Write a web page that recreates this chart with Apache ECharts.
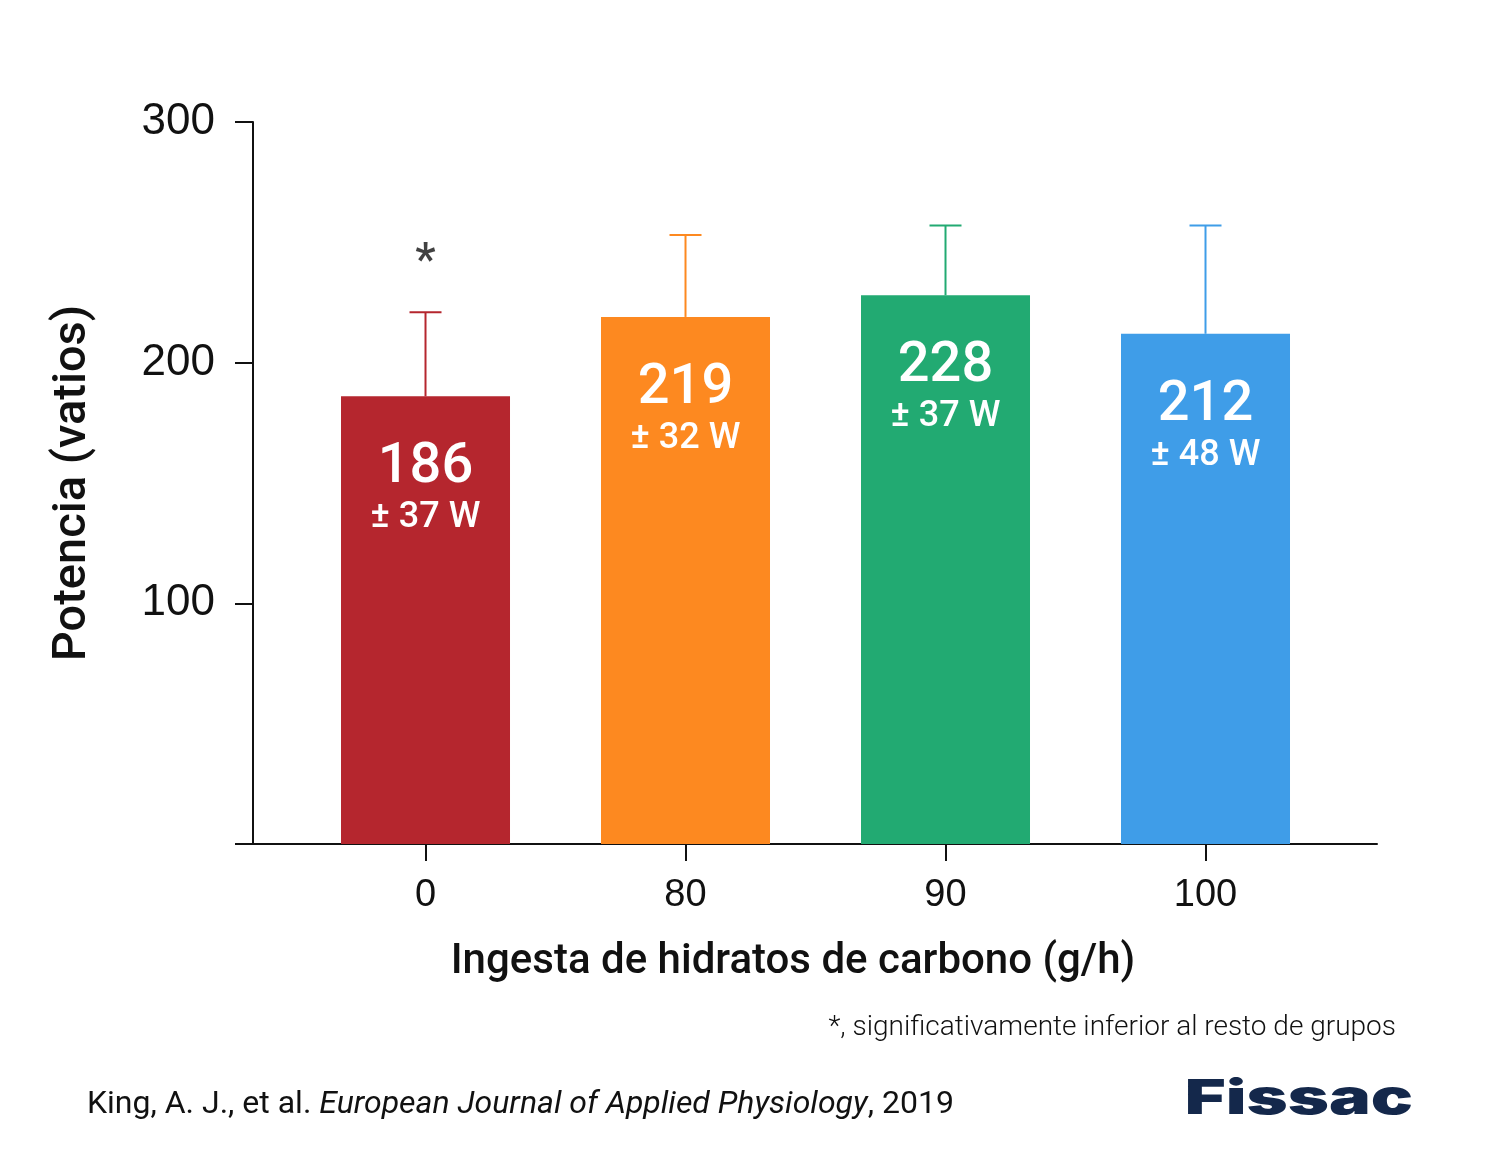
<!DOCTYPE html>
<html>
<head>
<meta charset="utf-8">
<script src="https://cdn.jsdelivr.net/npm/echarts@6/dist/echarts.min.js"></script>
<style>html,body{margin:0;padding:0;background:#fff}#c{width:1506px;height:1168px}</style>
</head>
<body>
<div id="c"></div>
<script>
const categories = ['0', '80', '90', '100'];
const means = [186, 219, 228, 212];
const sds = [37, 32, 37, 48];
const errTop = [221, 253, 257, 257];
const colors = ['#b5262e', '#fd8920', '#22aa72', '#3f9de8'];
const yTicks = [0, 100, 200, 300];
const starValue = 241;

const chart = echarts.init(document.getElementById('c'), null, {renderer: 'canvas'});

const barData = means.map((v, i) => ({
  value: [i, v],
  itemStyle: {color: colors[i]},
  label: {formatter: '{a|' + v + '}\n{b|± ' + sds[i] + ' W}'}
}));

const option = {
  backgroundColor: '#ffffff',
  animation: false,
  grid: {left: 253, right: 129, top: 122, bottom: 324, containLabel: false},
  xAxis: {
    type: 'value', min: -0.6635, max: 3.6596,
    axisLine: {show: true, onZero: false, lineStyle: {color: '#111', width: 2}},
    axisTick: {show: true, length: 17, lineStyle: {color: '#111', width: 2}, customValues: [0, 1, 2, 3]},
    axisLabel: {show: true, customValues: [0, 1, 2, 3], margin: 33,
      formatter: v => categories[Math.round(v)] ?? '',
      fontFamily: 'Liberation Sans', fontSize: 38, color: '#111'},
    splitLine: {show: false}
  },
  yAxis: {
    type: 'value', min: 0, max: 300, interval: 100,
    axisLine: {show: true, onZero: false, lineStyle: {color: '#111', width: 2}},
    axisTick: {show: true, length: 18, lineStyle: {color: '#111', width: 2}},
    axisLabel: {margin: 38, fontFamily: 'Liberation Sans', fontSize: 44, color: '#111',
      formatter: v => (yTicks.includes(v) && v !== 0) ? String(v) : ''},
    splitLine: {show: false},
    name: 'Potencia (vatios)', nameLocation: 'middle', nameGap: 156, nameRotate: 90,
    nameTextStyle: {fontFamily: 'Roboto', fontWeight: 500, fontSize: 47, color: '#111'}
  },
  series: [
    {
      type: 'bar', data: barData, barWidth: 169,
      label: {show: true, position: 'insideTop', distance: 44, color: '#fff', align: 'center',
        rich: {
          a: {fontFamily: 'Roboto', fontWeight: 500, fontSize: 56, lineHeight: 56, color: '#fff', align: 'center'},
          b: {fontFamily: 'Roboto', fontWeight: 500, fontSize: 36, lineHeight: 44, color: '#fff', align: 'center'}
        }
      },
      z: 2
    },
    {
      type: 'custom',
      data: means.map((v, i) => [i, v, errTop[i]]),
      renderItem: function (params, api) {
        const i = api.value(0);
        const lo = api.coord([i, api.value(1)]);
        const hi = api.coord([i, api.value(2)]);
        const c = colors[params.dataIndex];
        const half = 16;
        return {
          type: 'group',
          children: [
            {type: 'line', shape: {x1: lo[0], y1: lo[1], x2: hi[0], y2: hi[1]}, style: {stroke: c, lineWidth: 2}},
            {type: 'line', shape: {x1: hi[0] - half, y1: hi[1], x2: hi[0] + half, y2: hi[1]}, style: {stroke: c, lineWidth: 2}}
          ]
        };
      },
      z: 3
    },
    {
      type: 'scatter', data: [[0, starValue]], symbolSize: 1,
      itemStyle: {color: 'rgba(0,0,0,0)'},
      label: {show: true, position: 'inside', formatter: '*', fontFamily: 'Roboto', fontWeight: 500, fontSize: 46, color: '#111'}
    }
  ],
  graphic: [
    {type: 'text', x: 793, y: 962, style: {text: 'Ingesta de hidratos de carbono (g/h)', fontFamily: 'Roboto', fontWeight: 500, fontSize: 42, fill: '#111', align: 'center', verticalAlign: 'middle'}},
    {type: 'text', x: 1396, y: 1028, style: {text: '*, significativamente inferior al resto de grupos', fontFamily: 'Roboto', fontWeight: 300, fontSize: 28, fill: '#111', align: 'right', verticalAlign: 'middle'}},
    {type: 'text', x: 87, y: 1105, style: {
      text: '{r|King, A. J., et al. }{i|European Journal of Applied Physiology}{r|, 2019}',
      verticalAlign: 'middle',
      rich: {
        r: {fontFamily: 'Roboto', fontSize: 32, fill: '#111', color: '#111'},
        i: {fontFamily: 'Roboto', fontStyle: 'italic', fontSize: 32, fill: '#111', color: '#111'}
      }}},
    {type: 'text', x: 1413, y: 1100, scaleX: 1.46, style: {text: 'Fissac', fontFamily: 'Inter', fontWeight: 900, fontSize: 48, fill: '#14284b', align: 'right', verticalAlign: 'middle'}}
  ]
};
chart.setOption(option);
</script>
</body>
</html>
